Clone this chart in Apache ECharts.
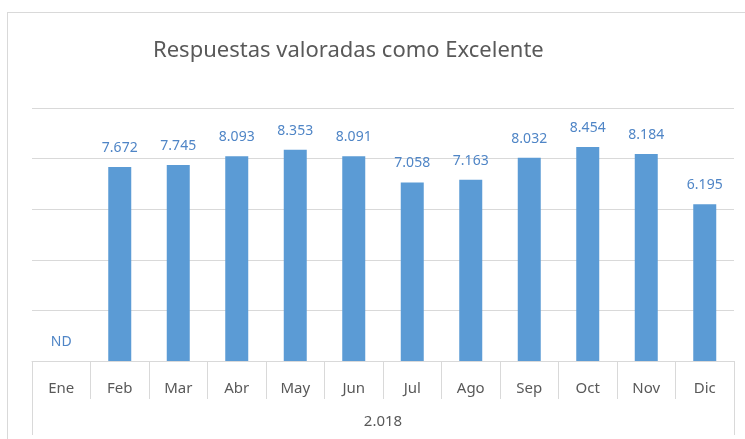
<!DOCTYPE html>
<html>
<head>
<meta charset="utf-8">
<script src="https://cdn.jsdelivr.net/npm/echarts@6/dist/echarts.min.js"></script>
<style>
  html, body { margin: 0; padding: 0; background: #fff; overflow: hidden; }
  #marco { position: absolute; left: 7px; top: 12px; width: 800px; height: 500px; border: 1px solid #D9D9D9; }
  #grafico { position: absolute; left: 0; top: 0; width: 745px; height: 439px; }
</style>
</head>
<body>
<div id="marco"></div>
<div id="grafico"></div>
<script>
// datos del gráfico
var meses = ['Ene', 'Feb', 'Mar', 'Abr', 'May', 'Jun', 'Jul', 'Ago', 'Sep', 'Oct', 'Nov', 'Dic'];
var valores = [null, 7.672, 7.745, 8.093, 8.353, 8.091, 7.058, 7.163, 8.032, 8.454, 8.184, 6.195];
var anio = ['2.018'];

var fuente = 'Noto Sans';
var grafico = echarts.init(document.getElementById('grafico'));

// Ene no tiene dato: se muestra "ND" sobre la base
var datos = valores.map(function (v) {
  if (v === null) {
    return { value: 0, label: { formatter: 'ND' } };
  }
  return v;
});

var option = {
  animation: false,
  title: {
    text: 'Respuestas valoradas como Excelente',
    left: 148,
    top: 35,
    textStyle: { color: '#595959', fontSize: 22, fontWeight: 'normal', fontFamily: fuente }
  },
  grid: { left: 32, right: 11, top: 108, bottom: 78 },
  xAxis: [{
    type: 'category',
    data: meses,
    axisLine: { lineStyle: { color: '#D9D9D9', width: 1 } },
    axisTick: { show: true, length: 38, lineStyle: { color: '#D9D9D9' } },
    axisLabel: { color: '#595959', fontSize: 15, fontFamily: fuente, margin: 20 }
  }, {
    type: 'category',
    data: anio,
    position: 'bottom',
    offset: 38,
    axisLine: { show: false },
    axisTick: { show: true, length: 36, lineStyle: { color: '#D9D9D9' } },
    axisLabel: { color: '#595959', fontSize: 15, fontFamily: fuente, margin: 15 }
  }],
  yAxis: {
    type: 'value',
    min: 0,
    max: 10,
    interval: 2,
    axisLabel: { show: false },
    axisLine: { show: false },
    axisTick: { show: false },
    splitLine: { lineStyle: { color: '#D9D9D9' } }
  },
  series: [{
    type: 'bar',
    data: datos,
    xAxisIndex: 0,
    barWidth: 23,
    itemStyle: { color: '#5B9BD5' },
    label: {
      show: true,
      position: 'top',
      distance: 12,
      color: '#4F85C6',
      fontSize: 14,
      fontFamily: fuente,
      formatter: function (p) { return p.value.toFixed(3); }
    }
  }]
};

grafico.setOption(option);
</script>
</body>
</html>
